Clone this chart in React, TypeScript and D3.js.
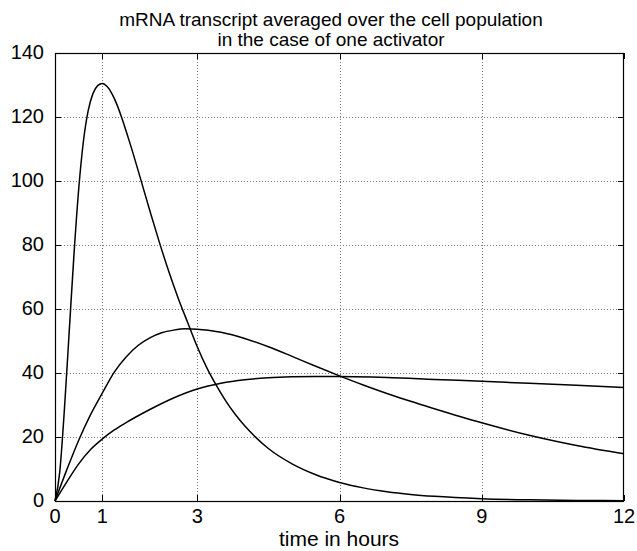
import React from "react";
import * as d3 from "d3";

const titleLines = [
  "mRNA transcript averaged over the cell population",
  "in the case of one activator",
];
const xLabel = "time in hours";
const xTicks = [0, 1, 3, 6, 9, 12];
const yTicks = [0, 20, 40, 60, 80, 100, 120, 140];
const xGrid = [1, 3, 6, 9];
const yGrid = [20, 40, 60, 80, 100, 120];

// Curve with the large early peak
const timeA = [0, 0.1, 0.2, 0.3, 0.4, 0.5, 0.6, 0.7, 0.8, 0.9, 1.0, 1.1, 1.2, 1.3, 1.4, 1.6, 1.8, 2.0, 2.2, 2.4, 2.6, 2.8, 3.0, 3.2, 3.4, 3.6, 3.8, 4.0, 4.2, 4.5, 5.0, 5.5, 6.0, 6.5, 7.0, 7.5, 8, 9, 10, 11, 12];
const valueA = [0, 9, 29, 53, 77, 97.5, 112.5, 122, 127.3, 129.8, 130.5, 129.5, 127.3, 124.1, 120.1, 110.9, 100.9, 90.7, 80.9, 71.7, 63.3, 55.7, 48.2, 41.7, 36.2, 31.3, 27.1, 23.5, 20.4, 16.4, 11.6, 8.2, 5.8, 4.1, 2.9, 2.05, 1.45, 0.72, 0.36, 0.18, 0.09];

// Curve with the middle peak
const timeB = [0, 0.25, 0.5, 0.75, 1, 1.25, 1.5, 1.75, 2, 2.25, 2.5, 2.75, 3, 3.5, 4, 4.5, 5, 5.5, 6, 6.5, 7, 7.5, 8, 9, 10, 11, 12];
const valueB = [0, 9.8, 19, 27, 33.8, 40.3, 45, 48.6, 51, 52.6, 53.4, 53.8, 53.7, 52.7, 50.8, 48.2, 45.2, 42.1, 39.1, 36.25, 33.6, 31.15, 28.85, 24.45, 20.55, 17.35, 14.75];

// Curve with the slow, flat plateau
const timeC = [0, 0.25, 0.5, 0.75, 1, 1.25, 1.5, 2, 2.5, 3, 3.5, 4, 4.5, 5, 5.5, 6, 7, 8, 9, 10, 11, 12];
const valueC = [0, 6, 11.6, 16.1, 19.4, 22.2, 24.5, 28.6, 32.2, 35, 36.8, 37.9, 38.5, 38.8, 38.9, 38.9, 38.6, 38.0, 37.4, 36.8, 36.2, 35.5];

const W = 637;
const H = 551;
const M = { l: 55, r: 13, t: 53, b: 50 };
const FONT = "'Liberation Sans', Arial, Helvetica, sans-serif";

export default function App() {
  const x = d3.scaleLinear().domain([0, 12]).range([M.l, W - M.r]);
  const y = d3.scaleLinear().domain([0, 140]).range([H - M.b, M.t]);
  const line = d3
    .line<[number, number]>()
    .x((d) => x(d[0]))
    .y((d) => y(d[1]))
    .curve(d3.curveMonotoneX);

  const series = [
    d3.zip(timeA, valueA) as [number, number][],
    d3.zip(timeB, valueB) as [number, number][],
    d3.zip(timeC, valueC) as [number, number][],
  ];

  const x0 = x(0), x1 = x(12), y0 = y(0), y1 = y(140);
  const tick = 6;
  const fs = 20;

  return (
    <svg
      width={W}
      height={H}
      style={{ position: "fixed", left: 0, top: 0, background: "#fff" }}
      fontFamily={FONT}
    >
      <rect x={0} y={0} width={W} height={H} fill="#fff" />
      {/* grid */}
      {xGrid.map((t) => (
        <line key={"gx" + t} x1={Math.round(x(t)) + 0.5} x2={Math.round(x(t)) + 0.5} y1={y0} y2={y1}
          stroke="#777" strokeWidth={1} strokeDasharray="1,2" />
      ))}
      {yGrid.map((v) => (
        <line key={"gy" + v} y1={Math.round(y(v)) + 0.5} y2={Math.round(y(v)) + 0.5} x1={x0} x2={x1}
          stroke="#777" strokeWidth={1} strokeDasharray="1,2" />
      ))}
      {/* ticks inward on all sides */}
      {xTicks.map((t) => (
        <g key={"tx" + t}>
          <line x1={Math.round(x(t)) + 0.5} x2={Math.round(x(t)) + 0.5} y1={y0} y2={y0 - tick} stroke="#000" />
          <line x1={Math.round(x(t)) + 0.5} x2={Math.round(x(t)) + 0.5} y1={y1} y2={y1 + tick} stroke="#000" />
        </g>
      ))}
      {yTicks.map((v) => (
        <g key={"ty" + v}>
          <line y1={Math.round(y(v)) + 0.5} y2={Math.round(y(v)) + 0.5} x1={x0} x2={x0 + tick} stroke="#000" />
          <line y1={Math.round(y(v)) + 0.5} y2={Math.round(y(v)) + 0.5} x1={x1} x2={x1 - tick} stroke="#000" />
        </g>
      ))}
      {/* curves */}
      {series.map((s, i) => (
        <path key={"s" + i} d={line(s) || ""} fill="none" stroke="#000" strokeWidth={1.5} />
      ))}
      {/* frame */}
      <rect x={x0 + 0.5} y={y1 + 0.5} width={x1 - x0 - 1} height={y0 - y1} fill="none" stroke="#000" strokeWidth={1.2} />
      {/* tick labels */}
      {xTicks.map((t) => (
        <text key={"lx" + t} x={x(t)} y={523} textAnchor="middle" fontSize={fs} fill="#000">{t}</text>
      ))}
      {yTicks.map((v) => (
        <text key={"ly" + v} x={44} y={y(v) + 6} textAnchor="end" fontSize={fs} fill="#000">{v}</text>
      ))}
      {/* labels */}
      <text x={339} y={546} textAnchor="middle" fontSize={21} fill="#000">{xLabel}</text>
      {titleLines.map((s, i) => (
        <text key={"t" + i} x={331} y={26 + i * 20} textAnchor="middle" fontSize={19} fill="#000">{s}</text>
      ))}
    </svg>
  );
}
